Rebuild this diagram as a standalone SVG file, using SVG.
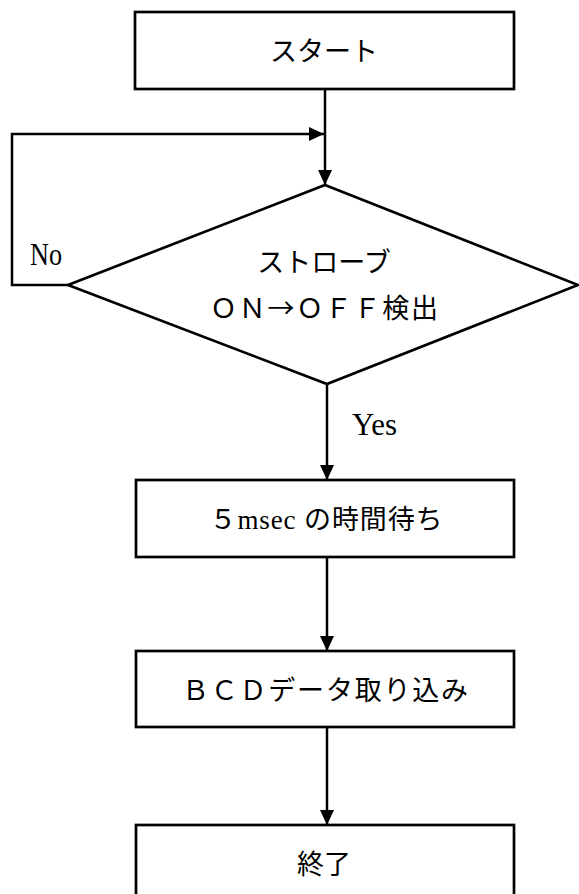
<svg xmlns="http://www.w3.org/2000/svg" width="579" height="894" viewBox="0 0 579 894">
<style>
.box{fill:#fff;stroke:#000;stroke-width:2.7}
.con{fill:none;stroke:#000;stroke-width:2.5}
.jp{font-family:"Noto Sans CJK JP","Liberation Serif",sans-serif;font-size:27px;fill:#000;text-anchor:middle}
.hw{font-family:"Liberation Serif",serif}
.lat{font-family:"Liberation Serif",serif;font-size:31px;fill:#000}
</style>
<defs>
<marker id="ah" markerUnits="userSpaceOnUse" markerWidth="16" markerHeight="14" refX="15" refY="7" orient="auto">
<path d="M0,0 L15,7 L0,14 Z" fill="#000"/>
</marker>
</defs>
<g id="start"><rect class="box" x="135" y="12" width="379" height="77"/><text class="jp" x="324" y="61">スタート</text></g>
<g id="decision"><polygon class="box" points="325,185 578,285 327,384 68,285"/><text class="jp" x="324" y="272">ストローブ</text><text class="jp" x="324" y="318" textLength="228">ＯＮ→ＯＦＦ検出</text></g>
<g id="wait"><rect class="box" x="136" y="480" width="378" height="77"/><text class="jp" x="326" y="529" textLength="233">５<tspan class="hw">msec </tspan>の時間待ち</text></g>
<g id="read"><rect class="box" x="136" y="651" width="378" height="76"/><text class="jp" x="325" y="700" textLength="286">ＢＣＤデータ取り込み</text></g>
<g id="end"><rect class="box" x="136" y="825" width="378" height="90"/><text class="jp" x="324" y="874">終了</text></g>
<g id="connectors">
<line class="con" x1="325" y1="89" x2="325" y2="185" marker-end="url(#ah)"/>
<polyline class="con" points="68,285 12,285 12,134 324,134" marker-end="url(#ah)"/>
<line class="con" x1="327" y1="384" x2="327" y2="480" marker-end="url(#ah)"/>
<line class="con" x1="327" y1="557" x2="327" y2="651" marker-end="url(#ah)"/>
<line class="con" x1="327" y1="727" x2="327" y2="825" marker-end="url(#ah)"/>
</g>
<text class="lat" x="30" y="265" textLength="32" lengthAdjust="spacingAndGlyphs">No</text>
<text class="lat" x="352" y="435" textLength="45" lengthAdjust="spacingAndGlyphs">Yes</text>
</svg>
